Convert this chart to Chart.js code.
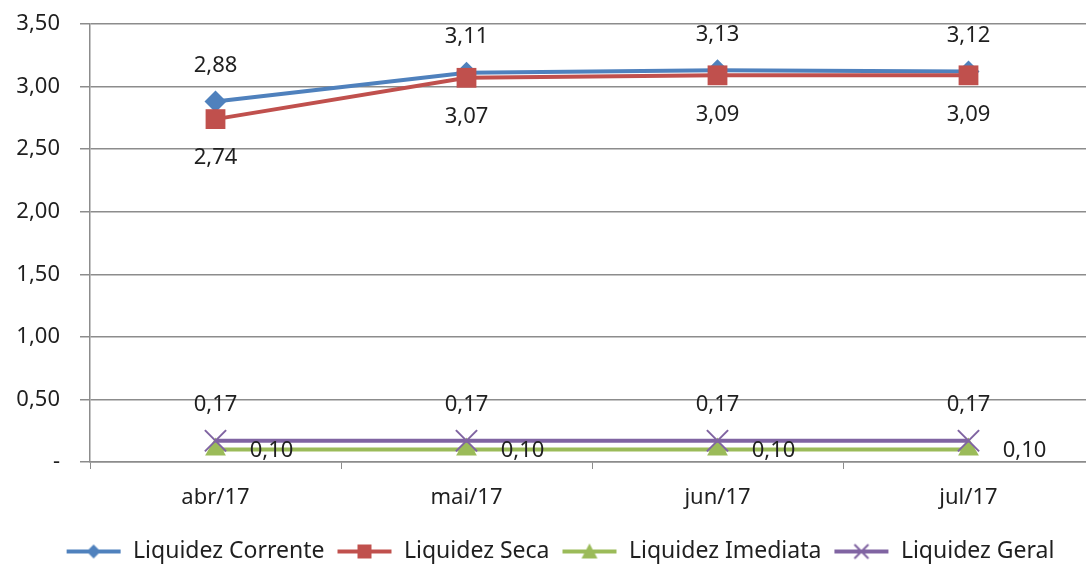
<!DOCTYPE html>
<html>
<head>
<meta charset="utf-8">
<script src="https://cdn.jsdelivr.net/npm/chart.js@4.4.1/dist/chart.umd.min.js"></script>
<style>
  html, body { margin: 0; padding: 0; background: #fff; overflow: hidden; }
  #wrap { width: 1094px; height: 573px; }
</style>
</head>
<body>
<div id="wrap"><canvas id="chart" width="1094" height="573"></canvas></div>
<script>
'use strict';

// chart data
const months = ['abr/17', 'mai/17', 'jun/17', 'jul/17'];
const liquidezCorrente = [2.88, 3.11, 3.13, 3.12];
const liquidezSeca = [2.74, 3.07, 3.09, 3.09];
const liquidezImediata = [0.10, 0.10, 0.10, 0.10];
const liquidezGeral = [0.17, 0.17, 0.17, 0.17];
const yTicks = [0, 0.5, 1, 1.5, 2, 2.5, 3, 3.5];

const FONT = '"Noto Sans", sans-serif';
const TEXT = '#1f1f1f';
const GRID = '#8c8c8c';

const fmt = v => v === 0 ? '-' : v.toFixed(2).replace('.', ',');

// small legend symbol: line with marker in the middle
function legendSymbol(color, style) {
    const c = document.createElement('canvas');
    c.width = 56; c.height = 20;
    const g = c.getContext('2d');
    g.strokeStyle = color;
    g.lineWidth = 4;
    g.beginPath(); g.moveTo(1, 10); g.lineTo(55, 10); g.stroke();
    g.fillStyle = color;
    const cx = 28, cy = 10;
    if (style === 'rectRot') {
        g.beginPath(); g.moveTo(cx, cy - 7); g.lineTo(cx + 7, cy); g.lineTo(cx, cy + 7); g.lineTo(cx - 7, cy); g.closePath(); g.fill();
    } else if (style === 'rect') {
        g.fillRect(cx - 7, cy - 7, 14, 14);
    } else if (style === 'triangle') {
        g.beginPath(); g.moveTo(cx, cy - 8); g.lineTo(cx + 8, cy + 7); g.lineTo(cx - 8, cy + 7); g.closePath(); g.fill();
    } else if (style === 'crossRot') {
        g.lineWidth = 2;
        g.beginPath(); g.moveTo(cx - 7, cy - 7); g.lineTo(cx + 7, cy + 7); g.moveTo(cx + 7, cy - 7); g.lineTo(cx - 7, cy + 7); g.stroke();
    }
    return c;
}

// draws the value labels next to each point
const valueLabels = {
    id: 'valueLabels',
    afterLayout(chart) {
        // legend sits a bit right of centre in the original
        chart.legend.left += 13;
        chart.legend.right += 13;
    },
    afterDatasetsDraw(chart) {
        const ctx = chart.ctx;
        ctx.save();
        ctx.font = '22px ' + FONT;
        ctx.fillStyle = TEXT;
        ctx.textAlign = 'center';
        ctx.textBaseline = 'middle';
        chart.data.datasets.forEach((ds, i) => {
            const meta = chart.getDatasetMeta(i);
            meta.data.forEach((pt, j) => {
                ctx.fillText(fmt(ds.data[j]), pt.x + ds.labelDx, pt.y + ds.labelDy);
            });
        });
        ctx.restore();
    }
};

const series = [
    { label: 'Liquidez Corrente', data: liquidezCorrente, color: '#4f81bd', style: 'rectRot', radius: 11, order: 4, dx: 0, dy: -36 },
    { label: 'Liquidez Seca', data: liquidezSeca, color: '#c0504d', style: 'rect', radius: 14, order: 3, dx: 0, dy: 39 },
    { label: 'Liquidez Imediata', data: liquidezImediata, color: '#9bbb59', style: 'triangle', radius: 12, order: 2, dx: 56, dy: 1 },
    { label: 'Liquidez Geral', data: liquidezGeral, color: '#8064a2', style: 'crossRot', radius: 15, order: 1, dx: 0, dy: -36 }
];

new Chart(document.getElementById('chart'), {
    type: 'line',
    data: {
        labels: months,
        datasets: series.map(s => ({
            label: s.label,
            data: s.data,
            borderColor: s.color,
            backgroundColor: s.color,
            borderWidth: 4,
            pointStyle: s.style,
            pointRadius: s.radius,
            pointBorderWidth: s.style === 'crossRot' ? 2 : 0,
            pointBorderColor: s.color,
            order: s.order,
            labelDx: s.dx,
            labelDy: s.dy,
            legendImg: legendSymbol(s.color, s.style)
        }))
    },
    options: {
        responsive: false,
        animation: false,
        layout: { autoPadding: false, padding: { top: 24, left: 0, right: 0, bottom: 0 } },
        plugins: {
            tooltip: { enabled: false },
            legend: {
                position: 'bottom',
                labels: {
                    usePointStyle: true,
                    pointStyleWidth: 56,
                    boxHeight: 20,
                    padding: 12,
                    color: TEXT,
                    font: { family: FONT, size: 23 },
                    generateLabels: chart => chart.data.datasets.map((ds, i) => ({
                        text: ds.label,
                        pointStyle: ds.legendImg,
                        fillStyle: ds.borderColor,
                        strokeStyle: ds.borderColor,
                        lineWidth: 0,
                        fontColor: TEXT,
                        datasetIndex: i
                    }))
                }
            }
        },
        scales: {
            x: {
                offset: true,
                grid: { display: true, offset: true, drawOnChartArea: false, drawTicks: true, tickLength: 7, color: GRID },
                border: { color: GRID, width: 1.5 },
                ticks: { color: TEXT, padding: 16, font: { family: FONT, size: 22 } },
                afterFit: s => { s.height = 66; }
            },
            y: {
                min: 0,
                max: 3.5,
                afterBuildTicks: s => { s.ticks = yTicks.map(v => ({ value: v })); },
                grid: { color: GRID, lineWidth: 1.5, tickLength: 10 },
                border: { color: GRID, width: 1.5 },
                ticks: { color: TEXT, padding: 20, font: { family: FONT, size: 22 }, callback: v => fmt(v) },
                afterFit: s => { s.width = 90; s.paddingTop = 0; }
            }
        }
    },
    plugins: [valueLabels]
});
</script>
</body>
</html>
